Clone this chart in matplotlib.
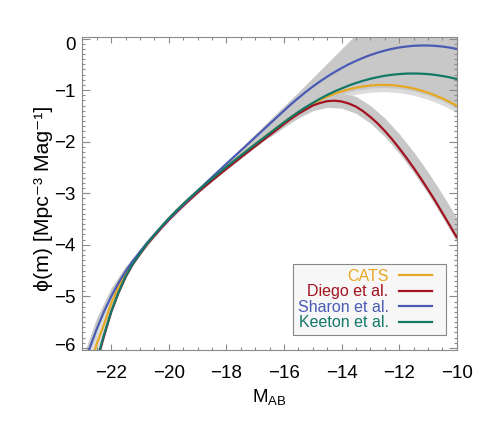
import matplotlib
matplotlib.use("Agg")
import matplotlib.pyplot as plt
from matplotlib.ticker import MultipleLocator
from matplotlib.transforms import ScaledTranslation
from matplotlib.legend_handler import HandlerLine2D
from matplotlib.lines import Line2D

plt.rcParams['font.family'] = ['Liberation Sans', 'DejaVu Sans']
plt.rcParams['mathtext.fontset'] = 'custom'
plt.rcParams['mathtext.rm'] = 'Liberation Sans'
plt.rcParams['mathtext.it'] = 'Liberation Sans'

# ---- data ----
M_AB = [-23, -22.75, -22.5, -22.25, -22, -21.75, -21.5, -21.25, -21, -20.75, -20.5, -20.25, -20,
        -19.75, -19.5, -19.25, -19, -18.75, -18.5, -18.25, -18, -17.75, -17.5, -17.25, -17,
        -16.75, -16.5, -16.25, -16, -15.75, -15.5, -15.25, -15, -14.75, -14.5, -14.25, -14,
        -13.75, -13.5, -13.25, -13, -12.75, -12.5, -12.25, -12, -11.75, -11.5, -11.25, -11,
        -10.75, -10.5, -10.25, -10]

cats = [-7.0, -6.42, -5.92, -5.55, -5.14, -4.82, -4.56, -4.35, -4.16, -3.975, -3.81, -3.644, -3.49,
        -3.346, -3.21, -3.08, -2.956, -2.835, -2.718, -2.603, -2.49, -2.379, -2.269, -2.16, -2.052,
        -1.945, -1.838, -1.731, -1.625, -1.523, -1.428, -1.341, -1.263, -1.192, -1.128, -1.072, -1.027,
        -0.985, -0.953, -0.928, -0.911, -0.901, -0.900, -0.906, -0.919, -0.940, -0.969, -1.006, -1.050,
        -1.102, -1.161, -1.228, -1.303]
diego = [-7.6, -6.88, -6.28, -5.78, -5.31, -4.94, -4.63, -4.38, -4.18, -3.99, -3.83, -3.67, -3.52,
         -3.38, -3.245, -3.115, -2.99, -2.87, -2.755, -2.64, -2.528, -2.417, -2.307, -2.198, -2.09,
         -1.983, -1.876, -1.769, -1.66, -1.556, -1.46, -1.38, -1.30, -1.25, -1.215, -1.205, -1.22,
         -1.26, -1.32, -1.41, -1.52, -1.645, -1.79, -1.95, -2.125, -2.31, -2.505, -2.71, -2.925,
         -3.145, -3.38, -3.615, -3.855]
sharon = [-6.445, -6.015, -5.635, -5.30, -5.005, -4.745, -4.515, -4.315, -4.135, -3.96, -3.80, -3.65, -3.505,
          -3.365, -3.225, -3.09, -2.955, -2.822, -2.69, -2.56, -2.43, -2.301, -2.173, -2.044, -1.915,
          -1.787, -1.658, -1.529, -1.40, -1.273, -1.153, -1.040, -0.933, -0.833, -0.740, -0.654, -0.574,
          -0.500, -0.434, -0.374, -0.321, -0.274, -0.234, -0.201, -0.174, -0.155, -0.141, -0.135, -0.135,
          -0.142, -0.155, -0.175, -0.202]
keeton = [-7.56, -6.84, -6.25, -5.75, -5.30, -4.93, -4.62, -4.37, -4.17, -3.975, -3.81, -3.644, -3.49,
          -3.346, -3.21, -3.08, -2.956, -2.835, -2.718, -2.603, -2.49, -2.379, -2.269, -2.16, -2.052,
          -1.945, -1.838, -1.731, -1.625, -1.522, -1.425, -1.333, -1.249, -1.169, -1.095, -1.028, -0.969,
          -0.912, -0.863, -0.819, -0.781, -0.749, -0.723, -0.703, -0.689, -0.680, -0.678, -0.681, -0.690,
          -0.705, -0.726, -0.752, -0.785]

# grey uncertainty envelopes
env_M = [-23, -22.5, -22, -21.5, -21, -20.5, -20, -19.5, -19, -18.5, -18, -17.5, -17,
         -16.5, -16, -15.5, -15, -14.5, -14, -13.5, -13, -12.5, -12, -11.5, -11, -10.5, -10]
env_hi = [-6.195, -5.415, -4.835, -4.415, -4.095, -3.78, -3.485, -3.205, -2.935, -2.67, -2.41, -2.133, -1.855,
          -1.578, -1.31, -1.04, -0.76, -0.48, -0.20, 0.08, 0.3, 0.5, 0.5, 0.5, 0.5, 0.5, 0.5]
env_lo = [-7.52, -6.21, -5.26, -4.58, -4.20, -3.85, -3.54, -3.265, -3.01, -2.775, -2.55, -2.33, -2.11,
          -1.90, -1.69, -1.49, -1.33, -1.22, -1.09, -1.015, -0.97, -0.96, -0.98, -1.03, -1.11, -1.22, -1.365]
cats_M = [-14, -13.5, -13, -12.5, -12, -11.5, -11, -10.5, -10]
cats_lo = [-1.157, -1.083, -1.041, -1.03, -1.049, -1.099, -1.18, -1.291, -1.433]
cats_hi = [-1.077, -1.003, -0.961, -0.95, -0.969, -1.019, -1.10, -1.211, -1.353]
diego_M = [-16.5, -16, -15.5, -15, -14.5, -14, -13.5, -13, -12.5, -12, -11.5, -11, -10.5, -10]
diego_lo = [-1.916, -1.72, -1.54, -1.40, -1.335, -1.35, -1.45, -1.64, -1.90, -2.225, -2.595, -3.005, -3.46, -3.935]
diego_hi = [-1.846, -1.62, -1.40, -1.22, -1.095, -1.06, -1.12, -1.30, -1.54, -1.845, -2.195, -2.585, -3.02, -3.475]
n_bright = 9  # points M <= -21 where the Sharon/Keeton gap is lightly shaded

labels = ['CATS', 'Diego et al.', 'Sharon et al.', 'Keeton et al.']
colors = ['#E6A822', '#A3121F', '#4A5BB4', '#137868']
xticks = [-22, -20, -18, -16, -14, -12, -10]
yticks = [-6, -5, -4, -3, -2, -1, 0]

fig = plt.figure(figsize=(4.80, 4.26), dpi=100)
ax = fig.add_axes([0.1715, 0.1784, 0.78, 0.7354])

grey = '#C8C8C8'
light = '#DCDCDC'
ax.fill_between(env_M, env_lo, env_hi, color=grey, lw=0, zorder=1)
ax.fill_between(M_AB[:n_bright], keeton[:n_bright], sharon[:n_bright], color=light, lw=0, zorder=1.1)
ax.fill_between(cats_M, cats_lo, cats_hi, color=light, lw=0, zorder=1.1)
ax.fill_between(diego_M, diego_lo, diego_hi, color=grey, lw=0, zorder=1.2)

for ys, lab, c in zip([cats, diego, sharon, keeton], labels, colors):
    ax.plot(M_AB, ys, color=c, lw=1.6, label=lab, zorder=3)

ax.set_xlim(-23, -10)
ax.set_ylim(-6.04, 0.035)
ax.set_xticks(xticks)
ax.set_xticklabels([str(v).replace('-', '\u2212') for v in xticks])
ax.set_yticks(yticks)
ylabs = ax.set_yticklabels([str(v).replace('-', '\u2212') for v in yticks])
ax.xaxis.set_minor_locator(MultipleLocator(0.5))
ax.yaxis.set_minor_locator(MultipleLocator(0.1))
tc = '#8A8A8A'
ax.tick_params(which='both', direction='in', top=True, right=True, color=tc, width=0.8,
               labelsize=13.5)
ax.tick_params(axis='x', which='major', length=4.5, pad=10.5)
ax.tick_params(axis='y', which='major', length=6, pad=5)
ax.tick_params(which='minor', length=2.3)
for s in ax.spines.values():
    s.set_color(tc)
    s.set_linewidth(0.8)
ylabs[-1].set_transform(ylabs[-1].get_transform() + ScaledTranslation(0, -0.05, fig.dpi_scale_trans))
ylabs[0].set_transform(ylabs[0].get_transform() + ScaledTranslation(0, 0.03, fig.dpi_scale_trans))

ax.set_xlabel(r'M$_{\mathregular{AB}}$', fontsize=13.5, labelpad=4)
ylab = ax.set_ylabel('ϕ(m) [Mpc\u207b\u00b3 Mag\u207b\u00b9]', fontsize=15.3, labelpad=0.5)
ylab.set_y(0.484)


class ShortLine(HandlerLine2D):
    """Legend line drawn over the middle part of the handle box."""
    def create_artists(self, legend, orig_handle, xdescent, ydescent, width, height, fontsize, trans):
        arts = super().create_artists(legend, orig_handle, xdescent, ydescent, width, height, fontsize, trans)
        for a in arts:
            if isinstance(a, Line2D):
                x = list(a.get_xdata())
                if len(x) >= 2:
                    w = x[-1] - x[0]
                    a.set_xdata([x[0] + 0.19 * w, x[0] + 0.825 * w])
                    a.set_ydata([a.get_ydata()[0]] * 2)
        return arts


leg = ax.legend(loc='lower right', bbox_to_anchor=(0.971, 0.048), borderaxespad=0,
                markerfirst=False, labelcolor='linecolor', fontsize=11.5, handlelength=3.29,
                handletextpad=0.0, labelspacing=0.03, borderpad=0.3, fancybox=False,
                framealpha=1, handler_map={Line2D: ShortLine()})
leg.get_frame().set_facecolor('#F7F7F7')
leg.get_frame().set_edgecolor('#888888')
leg.get_frame().set_linewidth(0.8)
leg.set_zorder(5)

fig.savefig('out.png', dpi=100)
